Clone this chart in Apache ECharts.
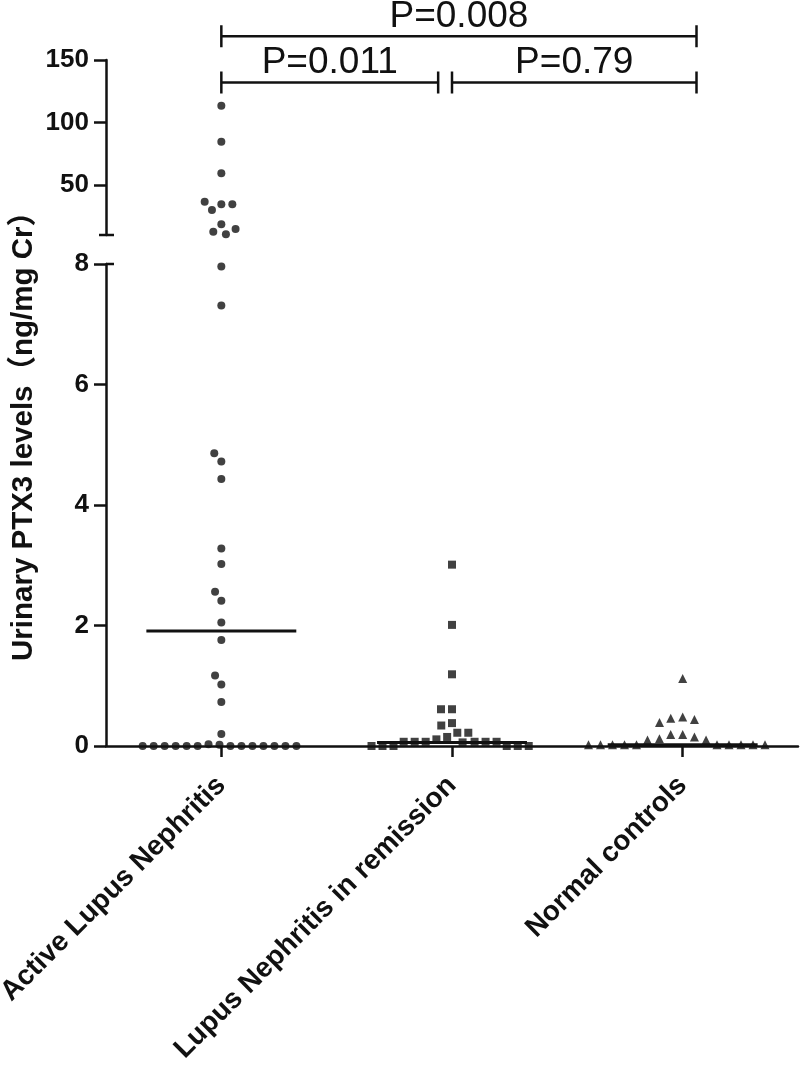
<!DOCTYPE html>
<html><head><meta charset="utf-8">
<script src="https://cdn.jsdelivr.net/npm/echarts@6/dist/echarts.min.js"></script>
<style>html,body{margin:0;padding:0;background:#fff}#c{width:800px;height:1065px}</style>
</head><body><div id="c"></div>
<script>
// ---- data ----
const categories = ['Active Lupus Nephritis', 'Lupus Nephritis in remission', 'Normal controls'];
const activeLN = [113.4, 84.6, 59.4, 34.6, 30.0, 34.6, 36.6, 18.6, 12.6, 10.6, 14.8,
  7.96, 7.31, 4.72, 4.86, 4.43, 3.28, 3.02, 2.41, 2.56, 2.05, 1.76, 1.02, 1.17, 0.73, 0.20,
  0.02, 0, 0.03, 0, 0, 0, 0, 0, 0, 0, 0, 0, 0, 0, 0];
const remissionLN = [3.01, 2.01, 1.19, 0.61, 0.61, 0.38, 0.34, 0.22, 0.22, 0.15, 0.11, 0.06,
  0.07, 0.07, 0.07, 0.07, 0.07, 0.07, 0, 0, 0, 0, 0, 0];
const normalControls = [1.12, 0.48, 0.46, 0.44, 0.39, 0.19, 0.19, 0.15, 0.12, 0.10, 0.10,
  0.02, 0.02, 0.02, 0.02, 0.02, 0.02, 0.02, 0.02, 0.02, 0.02];
const medians = [1.91, 0.06, 0.02];
const lowerTicks = [0, 2, 4, 6, 8];
const upperTicks = [50, 100, 150];
const lowerMax = 8, upperMin = 10, upperMax = 150;
const bracketLabels = ['P=0.011', 'P=0.79', 'P=0.008'];
const bracketFrom = [0, 1, 0];
const bracketTo = [0.94, 2.06, 2.06];
const bracketLevel = [132, 132, 169];
const yTitle = 'Urinary PTX3 levels\uFF08ng/mg Cr\uFF09';

// ---- chart ----
const INK = '#111';
const FONT = '"Liberation Sans", Arial, "Noto Sans CJK SC", sans-serif';
const chart = echarts.init(document.getElementById('c'), null, {renderer: 'canvas'});

const axisLine = {show: true, lineStyle: {color: INK, width: 2.5}};
const yLabel = {color: INK, fontFamily: FONT, fontWeight: 'bold', fontSize: 26, margin: 17};

function scatter(xi, yi, cat, vals, symbol, size) {
  return {
    type: 'scatter', xAxisIndex: xi, yAxisIndex: yi, clip: false,
    symbol: symbol, symbolSize: size,
    itemStyle: {color: INK},
    data: vals.map(v => [cat, v]), z: 3
  };
}

const option = {
  animation: false,
  backgroundColor: '#fff',
  grid: [
    {left: 106, right: 2, top: 60, height: 175, containLabel: false, outerBoundsMode: 'none'},
    {left: 106, right: 2, top: 264, height: 482, containLabel: false, outerBoundsMode: 'none'}
  ],
  xAxis: [
    {gridIndex: 0, type: 'category', data: categories, boundaryGap: true,
     jitter: 220, jitterOverlap: false, jitterMargin: 3,
     axisLine: {show: false}, axisTick: {show: false}, axisLabel: {show: false}, splitLine: {show: false}},
    {gridIndex: 1, type: 'category', data: categories, boundaryGap: true,
     jitter: 220, jitterOverlap: false, jitterMargin: 3,
     axisLine: axisLine,
     axisTick: {show: true, alignWithLabel: true, length: 11, lineStyle: {color: INK, width: 2.5}},
     axisLabel: {interval: 0, rotate: 45, margin: 35, color: INK, fontFamily: FONT, fontWeight: 'bold', fontSize: 28},
     splitLine: {show: false}}
  ],
  yAxis: [
    {gridIndex: 0, type: 'value', min: upperMin, max: upperMax,
     axisLine: axisLine,
     axisTick: {show: true, length: 12, customValues: upperTicks, lineStyle: {color: INK, width: 2.5}},
     axisLabel: Object.assign({customValues: upperTicks}, yLabel),
     splitLine: {show: false}},
    {gridIndex: 1, type: 'value', min: 0, max: lowerMax, interval: 2,
     axisLine: axisLine,
     axisTick: {show: true, length: 12, customValues: lowerTicks, lineStyle: {color: INK, width: 2.5}},
     axisLabel: Object.assign({customValues: lowerTicks}, yLabel),
     splitLine: {show: false}}
  ],
  graphic: [{
    type: 'text', x: 24, y: 661, rotation: Math.PI / 2,
    style: {text: yTitle, font: 'bold 29.5px ' + FONT, fill: INK, textAlign: 'left', textVerticalAlign: 'middle'}
  }],
  series: [
    scatter(0, 0, 0, activeLN.filter(v => v >= upperMin), 'circle', 8),
    scatter(1, 1, 0, activeLN.filter(v => v <= lowerMax), 'circle', 8),
    scatter(1, 1, 1, remissionLN, 'rect', 8),
    scatter(1, 1, 2, normalControls, 'triangle', 9),
    { // median lines
      type: 'custom', xAxisIndex: 1, yAxisIndex: 1, clip: false, z: 2,
      data: medians.map((m, i) => [i, m]),
      renderItem: function (params, api) {
        const c = api.coord([api.value(0), api.value(1)]);
        const w = api.size([1, 0])[0] * 0.325;
        return {type: 'line', shape: {x1: c[0] - w, y1: c[1], x2: c[0] + w, y2: c[1]},
                style: {stroke: INK, lineWidth: 3}};
      }
    },
    { // significance brackets
      type: 'custom', xAxisIndex: 0, yAxisIndex: 0, clip: false, z: 4,
      data: bracketLevel.map((lvl, i) => [bracketFrom[i], lvl, bracketTo[i], i]),
      renderItem: function (params, api) {
        const base = api.coord([0, api.value(1)]);
        const band = api.size([1, 0])[0];
        const y = base[1];
        const x1 = base[0] + api.value(0) * band;
        const x2 = base[0] + api.value(2) * band;
        const st = {stroke: INK, lineWidth: 2.5};
        return {type: 'group', children: [
          {type: 'line', shape: {x1: x1, y1: y, x2: x2, y2: y}, style: st},
          {type: 'line', shape: {x1: x1, y1: y - 11, x2: x1, y2: y + 11}, style: st},
          {type: 'line', shape: {x1: x2, y1: y - 11, x2: x2, y2: y + 11}, style: st},
          {type: 'text', x: (x1 + x2) / 2, y: y - 1,
           style: {text: bracketLabels[api.value(3)], font: '37px ' + FONT, fill: INK,
                   textAlign: 'center', textVerticalAlign: 'bottom'}}
        ]};
      }
    },
    { // axis-break cap (upper segment)
      type: 'custom', xAxisIndex: 0, yAxisIndex: 0, clip: false, z: 4,
      data: [[0, upperMin]],
      renderItem: function (params, api) {
        const y = api.coord([0, api.value(1)])[1];
        const x = params.coordSys.x;
        return {type: 'line', shape: {x1: x - 7, y1: y, x2: x + 8, y2: y}, style: {stroke: INK, lineWidth: 2.5}};
      }
    },
    { // axis-break cap (lower segment)
      type: 'custom', xAxisIndex: 1, yAxisIndex: 1, clip: false, z: 4,
      data: [[0, lowerMax]],
      renderItem: function (params, api) {
        const y = api.coord([0, api.value(1)])[1];
        const x = params.coordSys.x;
        return {type: 'line', shape: {x1: x, y1: y, x2: x + 8, y2: y}, style: {stroke: INK, lineWidth: 2.5}};
      }
    }
  ]
};
chart.setOption(option);
</script>
</body></html>
